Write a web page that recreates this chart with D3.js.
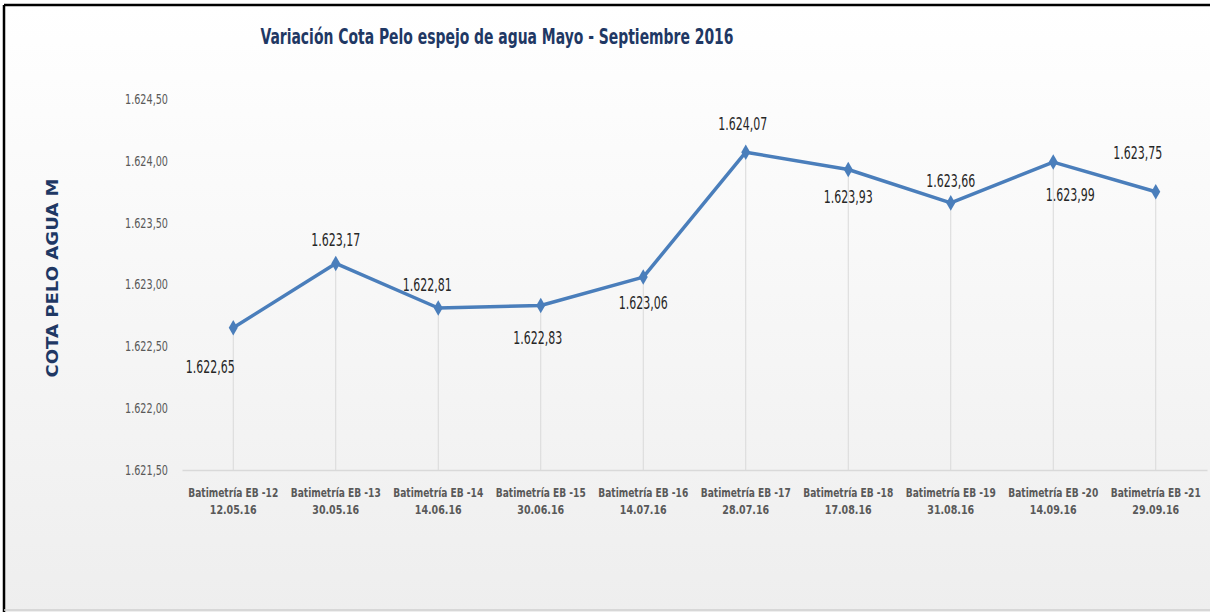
<!DOCTYPE html>
<html>
<head>
<meta charset="utf-8">
<script src="https://cdn.jsdelivr.net/npm/d3@7"></script>
<style>
  html, body { margin: 0; padding: 0; background: #fff; }
  svg { display: block; }
</style>
</head>
<body>
<svg id="chart"></svg>
<script>
// Data
const categories = ["Batimetría EB -12", "Batimetría EB -13", "Batimetría EB -14", "Batimetría EB -15", "Batimetría EB -16",
    "Batimetría EB -17", "Batimetría EB -18", "Batimetría EB -19", "Batimetría EB -20", "Batimetría EB -21"];
const dates = ["12.05.16", "30.05.16", "14.06.16", "30.06.16", "14.07.16", "28.07.16", "17.08.16", "31.08.16", "14.09.16", "29.09.16"];
const cota = [1622.65, 1623.17, 1622.81, 1622.83, 1623.06, 1624.07, 1623.93, 1623.66, 1623.99, 1623.75];
const yTicks = [1621.5, 1622.0, 1622.5, 1623.0, 1623.5, 1624.0, 1624.5];

// where each data label sits relative to its point (px)
const labelOffsets = [[-23, 39], [0, -24], [-11, -23], [-3, 32], [0, 26], [-3, -28], [0, 27], [0, -22], [17, 33], [-18, -39]];

const W = 1210, H = 612;
const margin = { top: 99, right: 3, bottom: 142, left: 182 };

const fmt = v => {
    const s = v.toFixed(2).split(".");
    return s[0].replace(/\B(?=(\d{3})+(?!\d))/g, ".") + "," + s[1];
};

const svg = d3.select("#chart").attr("width", W).attr("height", H);

// Background gradient
const defs = svg.append("defs");
const grad = defs.append("linearGradient").attr("id", "bg").attr("x1", 0).attr("y1", 0).attr("x2", 0).attr("y2", 1);
grad.append("stop").attr("offset", "0%").attr("stop-color", "#ffffff");
grad.append("stop").attr("offset", "100%").attr("stop-color", "#eeeeee");

svg.append("rect").attr("x", 4).attr("y", 5).attr("width", W - 4).attr("height", H - 5).attr("fill", "url(#bg)");

// Frame: black top/left, light bottom
svg.append("line").attr("x1", 4).attr("x2", W).attr("y1", 5).attr("y2", 5).attr("stroke", "#000").attr("stroke-width", 2.5);
svg.append("line").attr("x1", 4).attr("x2", 4).attr("y1", 5).attr("y2", H).attr("stroke", "#000").attr("stroke-width", 2.5);
svg.append("line").attr("x1", 4).attr("x2", W).attr("y1", H - 2).attr("y2", H - 2).attr("stroke", "#cfcfcf").attr("stroke-width", 1.5);

// Scales
const x = d3.scaleBand().domain(categories).range([margin.left, W - margin.right]);
const y = d3.scaleLinear().domain([1621.5, 1624.5]).range([H - margin.bottom, margin.top]);
const cx = c => x(c) + x.bandwidth() / 2;

// Title
svg.append("text")
    .attr("x", 497).attr("y", 44)
    .attr("text-anchor", "middle")
    .attr("fill", "#1f3864")
    .style("font-family", "'Liberation Sans Narrow', 'DejaVu Sans Condensed', sans-serif")
    .style("font-weight", "bold")
    .style("font-size", "22px")
    .attr("textLength", 473).attr("lengthAdjust", "spacingAndGlyphs")
    .text("Variación Cota Pelo espejo de agua Mayo - Septiembre 2016");

// Y axis title
svg.append("text")
    .attr("transform", `translate(58,${278}) rotate(-90)`)
    .attr("text-anchor", "middle")
    .attr("fill", "#1f3864")
    .style("font-family", "'DejaVu Sans', sans-serif")
    .style("font-weight", "bold")
    .style("font-size", "15px")
    .attr("textLength", 199).attr("lengthAdjust", "spacingAndGlyphs")
    .text("COTA PELO AGUA M");

// Y axis (labels only)
const yAxis = svg.append("g")
    .attr("transform", `translate(168,0)`)
    .call(d3.axisLeft(y).tickValues(yTicks).tickSize(0).tickPadding(0).tickFormat(fmt));
yAxis.select(".domain").remove();
yAxis.selectAll("text")
    .attr("fill", "#595959")
    .style("font-family", "'Liberation Sans Narrow', 'DejaVu Sans Condensed', sans-serif")
    .style("font-size", "14px")
    .attr("textLength", 43).attr("lengthAdjust", "spacingAndGlyphs");

// X axis line
const xAxis = svg.append("g")
    .attr("transform", `translate(0,${H - margin.bottom})`)
    .call(d3.axisBottom(x).tickSize(0).tickFormat(""));
xAxis.select(".domain").attr("stroke", "#d9d9d9").attr("stroke-width", 1.5);

// X labels (two lines)
const xl = svg.append("g").selectAll("g").data(categories).join("g")
    .attr("transform", d => `translate(${cx(d)},0)`)
    .attr("fill", "#595959")
    .style("font-family", "'Liberation Sans Narrow', 'DejaVu Sans Condensed', sans-serif")
    .style("font-weight", "bold")
    .style("font-size", "13px")
    .attr("text-anchor", "middle");
xl.append("text").attr("y", 497).attr("textLength", 90).attr("lengthAdjust", "spacingAndGlyphs").text(d => d);
xl.append("text").attr("y", 514).attr("textLength", 47).attr("lengthAdjust", "spacingAndGlyphs").text((d, i) => dates[i]);

// Drop lines
svg.append("g").selectAll("line").data(cota).join("line")
    .attr("x1", (d, i) => cx(categories[i])).attr("x2", (d, i) => cx(categories[i]))
    .attr("y1", d => y(d)).attr("y2", H - margin.bottom)
    .attr("stroke", "#d9d9d9").attr("stroke-width", 1);

// Line
const line = d3.line().x((d, i) => cx(categories[i])).y(d => y(d));
svg.append("path").datum(cota)
    .attr("d", line)
    .attr("fill", "none")
    .attr("stroke", "#4a7ebb")
    .attr("stroke-width", 3.5)
    .attr("stroke-linejoin", "round");

// Diamond markers
svg.append("g").selectAll("path").data(cota).join("path")
    .attr("transform", (d, i) => `translate(${cx(categories[i])},${y(d)})`)
    .attr("d", d3.symbol().type(d3.symbolDiamond).size(70))
    .attr("fill", "#4a7ebb");

// Data labels
svg.append("g").selectAll("text").data(cota).join("text")
    .attr("x", (d, i) => cx(categories[i]) + labelOffsets[i][0])
    .attr("y", (d, i) => y(d) + labelOffsets[i][1])
    .attr("dy", "0.36em")
    .attr("text-anchor", "middle")
    .attr("fill", "#262626")
    .style("font-family", "'Liberation Sans Narrow', 'DejaVu Sans Condensed', sans-serif")
    .style("font-size", "17px")
    .attr("textLength", 49).attr("lengthAdjust", "spacingAndGlyphs")
    .text(d => fmt(d));
</script>
</body>
</html>
